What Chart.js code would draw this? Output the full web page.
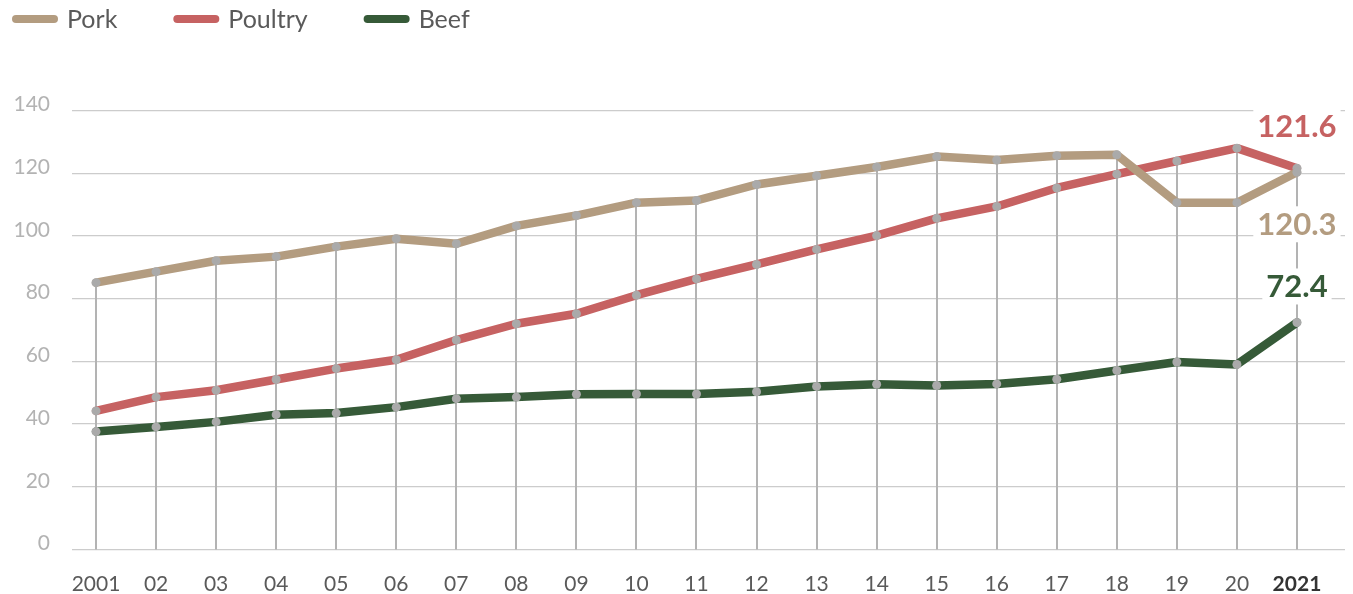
<!DOCTYPE html>
<html>
<head>
<meta charset="utf-8">
<script src="https://cdn.jsdelivr.net/npm/chart.js@4"></script>
<style>
  html, body { margin: 0; padding: 0; background: #ffffff; }
  #wrap { width: 1353px; height: 594px; position: relative; }
</style>
</head>
<body>
<div id="wrap"><canvas id="chart" width="1353" height="594"></canvas></div>
<script>
// Years on the x axis and the labels printed under them
const years = [2001, 2002, 2003, 2004, 2005, 2006, 2007, 2008, 2009, 2010,
               2011, 2012, 2013, 2014, 2015, 2016, 2017, 2018, 2019, 2020, 2021];
const yearLabels = ['2001', '02', '03', '04', '05', '06', '07', '08', '09', '10',
                    '11', '12', '13', '14', '15', '16', '17', '18', '19', '20', '2021'];

// Series values
const pork    = [85.1, 88.6, 92.1, 93.4, 96.6, 99.1, 97.5, 103.2, 106.5, 110.6,
                 111.3, 116.4, 119.2, 122.0, 125.3, 124.2, 125.6, 125.9, 110.6, 110.6, 120.3];
const poultry = [44.2, 48.6, 50.8, 54.2, 57.7, 60.5, 66.8, 72.0, 75.2, 81.1,
                 86.3, 90.9, 95.7, 100.1, 105.6, 109.4, 115.3, 119.7, 123.9, 128.0, 121.6];
const beef    = [37.6, 39.1, 40.7, 43.0, 43.5, 45.4, 48.1, 48.6, 49.5, 49.6,
                 49.6, 50.3, 52.0, 52.7, 52.3, 52.8, 54.3, 57.1, 59.8, 59.0, 72.4];

// Y axis tick values
const yTicks = [0, 20, 40, 60, 80, 100, 120, 140];

const seriesNames = ['Pork', 'Poultry', 'Beef'];
const seriesColors = ['#b39c80', '#c66262', '#365a38'];

const FONT = 'Lato, "Noto Sans", sans-serif';

function toPoints(values) {
  return values.map((v, i) => ({ x: years[i], y: v }));
}

// Gray drop lines from the highest point of each year down to the baseline
const dropLines = {
  id: 'dropLines',
  beforeDatasetsDraw(chart) {
    const { ctx, scales } = chart;
    const x = scales.x, y = scales.y;
    const bottom = y.getPixelForValue(0);
    ctx.save();
    ctx.strokeStyle = '#b3b3b3';
    ctx.lineWidth = 2;
    years.forEach((yr, i) => {
      let top = -Infinity;
      chart.data.datasets.forEach(ds => { top = Math.max(top, ds.data[i].y); });
      const px = Math.round(x.getPixelForValue(yr));
      ctx.beginPath();
      ctx.moveTo(px, y.getPixelForValue(top));
      ctx.lineTo(px, bottom);
      ctx.stroke();
    });
    ctx.restore();
  }
};

// Value labels at the final year, on a white backing
const endLabels = {
  id: 'endLabels',
  afterDatasetsDraw(chart) {
    const { ctx } = chart;
    const shifts = [52, -42, -36]; // pork below, poultry and beef above
    ctx.save();
    ctx.font = 'bold 31px ' + FONT;
    ctx.textAlign = 'center';
    ctx.textBaseline = 'middle';
    chart.data.datasets.forEach((ds, d) => {
      const meta = chart.getDatasetMeta(d);
      const last = meta.data[meta.data.length - 1];
      const text = ds.data[ds.data.length - 1].y.toFixed(1);
      const cx = last.x;
      const cy = last.y + shifts[d];
      const w = ctx.measureText(text).width + 8;
      ctx.fillStyle = '#ffffff';
      ctx.fillRect(cx - w / 2, cy - 18, w, 36);
      ctx.fillStyle = ds.borderColor;
      ctx.fillText(text, cx, cy + 1);
    });
    ctx.restore();
  }
};

// Legend across the top: rounded line swatch followed by the series name
const topLegend = {
  id: 'topLegend',
  afterDraw(chart) {
    const { ctx } = chart;
    ctx.save();
    ctx.font = '25px ' + FONT;
    ctx.textBaseline = 'middle';
    ctx.textAlign = 'left';
    let x = 12;
    const cy = 19;
    chart.data.datasets.forEach(ds => {
      ctx.strokeStyle = ds.borderColor;
      ctx.lineWidth = 8;
      ctx.lineCap = 'round';
      ctx.beginPath();
      ctx.moveTo(x + 4, cy);
      ctx.lineTo(x + 42, cy);
      ctx.stroke();
      ctx.fillStyle = '#5a5a5a';
      ctx.fillText(ds.label, x + 55, cy + 1);
      x += 55 + ctx.measureText(ds.label).width + 56;
    });
    ctx.restore();
  }
};

const datasets = [pork, poultry, beef].map((vals, i) => ({
  label: seriesNames[i],
  data: toPoints(vals),
  borderColor: seriesColors[i],
  backgroundColor: seriesColors[i],
  borderWidth: 8.5,
  borderJoinStyle: 'round',
  borderCapStyle: 'round',
  pointRadius: 4.5,
  pointBorderWidth: 0,
  pointBackgroundColor: '#aaaaaa',
  tension: 0
}));

new Chart(document.getElementById('chart'), {
  type: 'line',
  data: { datasets },
  options: {
    responsive: false,
    animation: false,
    layout: { padding: { top: 110.5, right: 8, left: 0, bottom: 0 } },
    plugins: {
      legend: { display: false },
      tooltip: { enabled: false }
    },
    scales: {
      x: {
        type: 'linear',
        min: 2000.6,
        max: 2021.8,
        afterBuildTicks(scale) { scale.ticks = years.map(v => ({ value: v })); },
        afterFit(scale) { scale.height = 44.5; },
        grid: { display: false },
        border: { display: false },
        ticks: {
          autoSkip: false,
          maxRotation: 0,
          padding: 14,
          callback: (v) => yearLabels[years.indexOf(v)],
          font: (c) => ({ family: FONT, size: 21, weight: c.index === years.length - 1 ? 'bold' : 'normal' }),
          color: (c) => c.index === years.length - 1 ? '#333333' : '#5a5a5a'
        }
      },
      y: {
        min: 0,
        max: 140,
        afterBuildTicks(scale) { scale.ticks = yTicks.map(v => ({ value: v })); },
        afterFit(scale) { scale.width = 72; },
        grid: { color: '#cccccc', lineWidth: 1.2, drawTicks: false },
        border: { display: false },
        ticks: {
          padding: 22,
          labelOffset: -6,
          font: { family: FONT, size: 21 },
          color: '#b3b3b3'
        }
      }
    }
  },
  plugins: [dropLines, endLabels, topLegend]
});
</script>
</body>
</html>
